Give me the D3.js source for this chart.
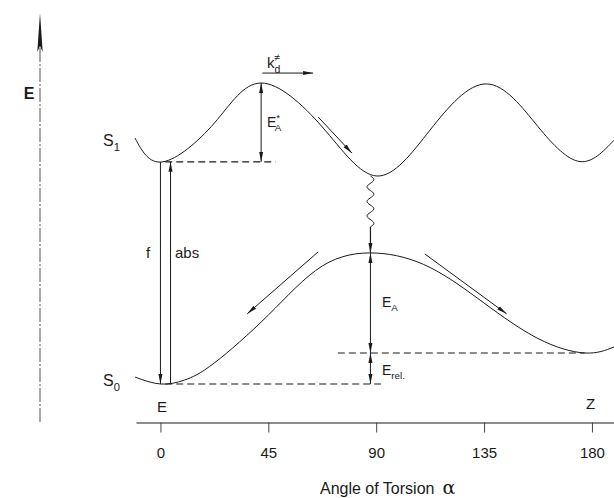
<!DOCTYPE html>
<html>
<head>
<meta charset="utf-8">
<script src="https://cdn.jsdelivr.net/npm/d3@7/dist/d3.min.js"></script>
<style>
  html, body { margin: 0; padding: 0; background: #fff; }
  svg { display: block; font-family: "Liberation Sans", Arial, sans-serif; }
</style>
</head>
<body>
<svg id="chart" width="614" height="498"></svg>
<script>
// ---------- data (angle in degrees, energy in arbitrary units) ----------
const angleTicks = [0, 45, 90, 135, 180];

const s1Angles = [-10.6, 1, 22.5, 42, 67.5, 90.3, 112.5, 136, 157.5, 175, 189.2];
const s1Energy = [81.7, 73.8, 86.7, 100, 85.4, 69.1, 84.4, 99.7, 85.5, 73.9, 81.0];

const s0Angles = [-10.6, 0, 10, 22.5, 45, 67.5, 90, 112.5, 135, 157.5, 177, 189.2];
const s0Energy = [2.3, 0, 1.3, 7.0, 22.9, 39.2, 43.5, 38.7, 26.9, 15.1, 10.3, 12.3];

// dashed reference levels: [angleFrom, angleTo, energy]
const levelFrom   = [2, 2, 74];
const levelTo     = [48, 92, 177];
const levelEnergy = [73.8, 0, 10.3];

// arrows (start angle/energy -> end angle/energy)
const arrowA1 = [0,    4.2,  42,    42.5,  65.8, 65.8, 110.3, 87.6,  87.6];
const arrowE1 = [73.8, 0,    73.8,  103.3, 88.7, 43.9, 43.2,  43.5,  10.3];
const arrowA2 = [0,    4.2,  42,    63.7,  79.9, 36.2, 144.4, 87.6,  87.6];
const arrowE2 = [0,    73.8, 100,   103.3, 76.7, 23.3, 23.3,  10.3,  0];
const arrowHeads = ["end", "end", "both", "end", "end", "end", "end", "both", "both"];

// radiationless decay (wavy) from S1 minimum to S0 maximum
const wavyAngle = 87.6;
const wavyEnergyFrom = 69.1;
const wavyEnergyTo = 52.2;
const wavyArrowTo = 43.5;

// ---------- layout ----------
const svg = d3.select("#chart");
const x = d3.scaleLinear().domain([-10.2, 189.2]).range([136, 614]);
const y = d3.scaleLinear().domain([0, 100]).range([384, 83]);
const axisY = 422.5;
const ink = "#1a1a1a";

const defs = svg.append("defs");
defs.append("marker")
  .attr("id", "head")
  .attr("viewBox", "0 0 10 10")
  .attr("refX", 10).attr("refY", 5)
  .attr("markerWidth", 10).attr("markerHeight", 10)
  .attr("markerUnits", "userSpaceOnUse")
  .attr("orient", "auto-start-reverse")
  .append("path").attr("d", "M0,3 L10,5 L0,7 Z").attr("fill", ink);

// ---------- y axis (energy arrow) ----------
svg.append("line")
  .attr("x1", 40).attr("x2", 40)
  .attr("y1", 48).attr("y2", axisY)
  .attr("stroke", "#555").attr("stroke-width", 1)
  .attr("stroke-dasharray", "14,2,2,2");
svg.append("path")
  .attr("d", "M40,13 L37.3,52 L40,46 L42.7,52 Z")
  .attr("fill", ink);
svg.append("text")
  .attr("x", 29).attr("y", 93).attr("dy", "0.35em")
  .attr("text-anchor", "middle")
  .attr("font-size", 16).attr("font-weight", "bold")
  .attr("fill", ink).text("E");

// ---------- x axis ----------
const xAxis = d3.axisBottom(x).tickValues(angleTicks).tickSize(10).tickSizeOuter(0);
const gx = svg.append("g").attr("transform", `translate(0,${axisY})`).call(xAxis);
gx.select(".domain").attr("stroke", ink).attr("stroke-width", 1.2);
gx.selectAll(".tick line").attr("stroke", "#444");
gx.selectAll(".tick text")
  .attr("y", 30.5).attr("dy", "0.35em")
  .attr("font-size", 15).attr("fill", ink)
  .attr("font-family", "'Liberation Sans', Arial, sans-serif");

const title = svg.append("text")
  .attr("x", 320).attr("y", 494)
  .attr("font-size", 16).attr("fill", ink);
title.append("tspan").text("Angle of Torsion");
title.append("tspan").attr("dx", 8).attr("font-size", 19)
  .attr("font-family", "'DejaVu Serif', serif").text("α");

// ---------- potential curves ----------
const line = d3.line().x(d => x(d[0])).y(d => y(d[1])).curve(d3.curveNatural);
const s1 = s1Angles.map((a, i) => [a, s1Energy[i]]);
const s0 = s0Angles.map((a, i) => [a, s0Energy[i]]);
svg.append("path").attr("d", line(s1)).attr("fill", "none")
  .attr("stroke", ink).attr("stroke-width", 1);
svg.append("path").attr("d", line(s0)).attr("fill", "none")
  .attr("stroke", ink).attr("stroke-width", 1);

// ---------- dashed levels ----------
levelEnergy.forEach((e, i) => {
  svg.append("line")
    .attr("x1", x(levelFrom[i])).attr("x2", x(levelTo[i]))
    .attr("y1", y(e)).attr("y2", y(e))
    .attr("stroke", ink).attr("stroke-width", 1.2)
    .attr("stroke-dasharray", "7,4");
});

// ---------- arrows ----------
arrowA1.forEach((a, i) => {
  const l = svg.append("line")
    .attr("x1", x(a)).attr("y1", y(arrowE1[i]))
    .attr("x2", x(arrowA2[i])).attr("y2", y(arrowE2[i]))
    .attr("stroke", ink).attr("stroke-width", 1)
    .attr("marker-end", "url(#head)");
  if (arrowHeads[i] === "both") l.attr("marker-start", "url(#head)");
});

// wavy line + arrow
{
  const wx = x(wavyAngle), y0 = y(wavyEnergyFrom), y1 = y(wavyEnergyTo);
  const n = 60, amp = 3.5, periods = 3.5;
  const pts = d3.range(n + 1).map(k => {
    const t = k / n;
    return [wx + amp * Math.sin(t * periods * 2 * Math.PI), y0 + (y1 - y0) * t];
  });
  svg.append("path").attr("d", d3.line().curve(d3.curveBasis)(pts))
    .attr("fill", "none").attr("stroke", ink).attr("stroke-width", 1);
  svg.append("line")
    .attr("x1", wx).attr("x2", wx).attr("y1", y1).attr("y2", y(wavyArrowTo))
    .attr("stroke", ink).attr("stroke-width", 1.2)
    .attr("marker-end", "url(#head)");
}

// ---------- labels ----------
function label(xp, yp, main, sub, sup, size) {
  const t = svg.append("text").attr("x", xp).attr("y", yp)
    .attr("font-size", size).attr("fill", ink);
  t.append("tspan").text(main);
  if (sup) {
    t.append("tspan").attr("font-size", size * 0.7).attr("dy", -size * 0.45).text(sup);
    t.append("tspan").attr("font-size", size * 0.7).attr("dx", -size * 0.38)
      .attr("dy", size * 0.75).text(sub);
  } else if (sub) {
    t.append("tspan").attr("font-size", size * 0.7).attr("dy", size * 0.3).text(sub);
  }
  return t;
}
label(103, 146, "S", "1", null, 16);
label(103, 386, "S", "0", null, 16);
label(157, 411.5, "E", null, null, 15);
label(586, 408.5, "Z", null, null, 15);
label(146, 258, "f", null, null, 15);
label(175, 258, "abs", null, null, 15);
label(267, 127, "E", "A", "*", 14);
label(267, 68, "k", "d", "≠", 15);
label(382, 307, "E", "A", null, 14);
label(382, 375, "E", "rel.", null, 14);
</script>
</body>
</html>
